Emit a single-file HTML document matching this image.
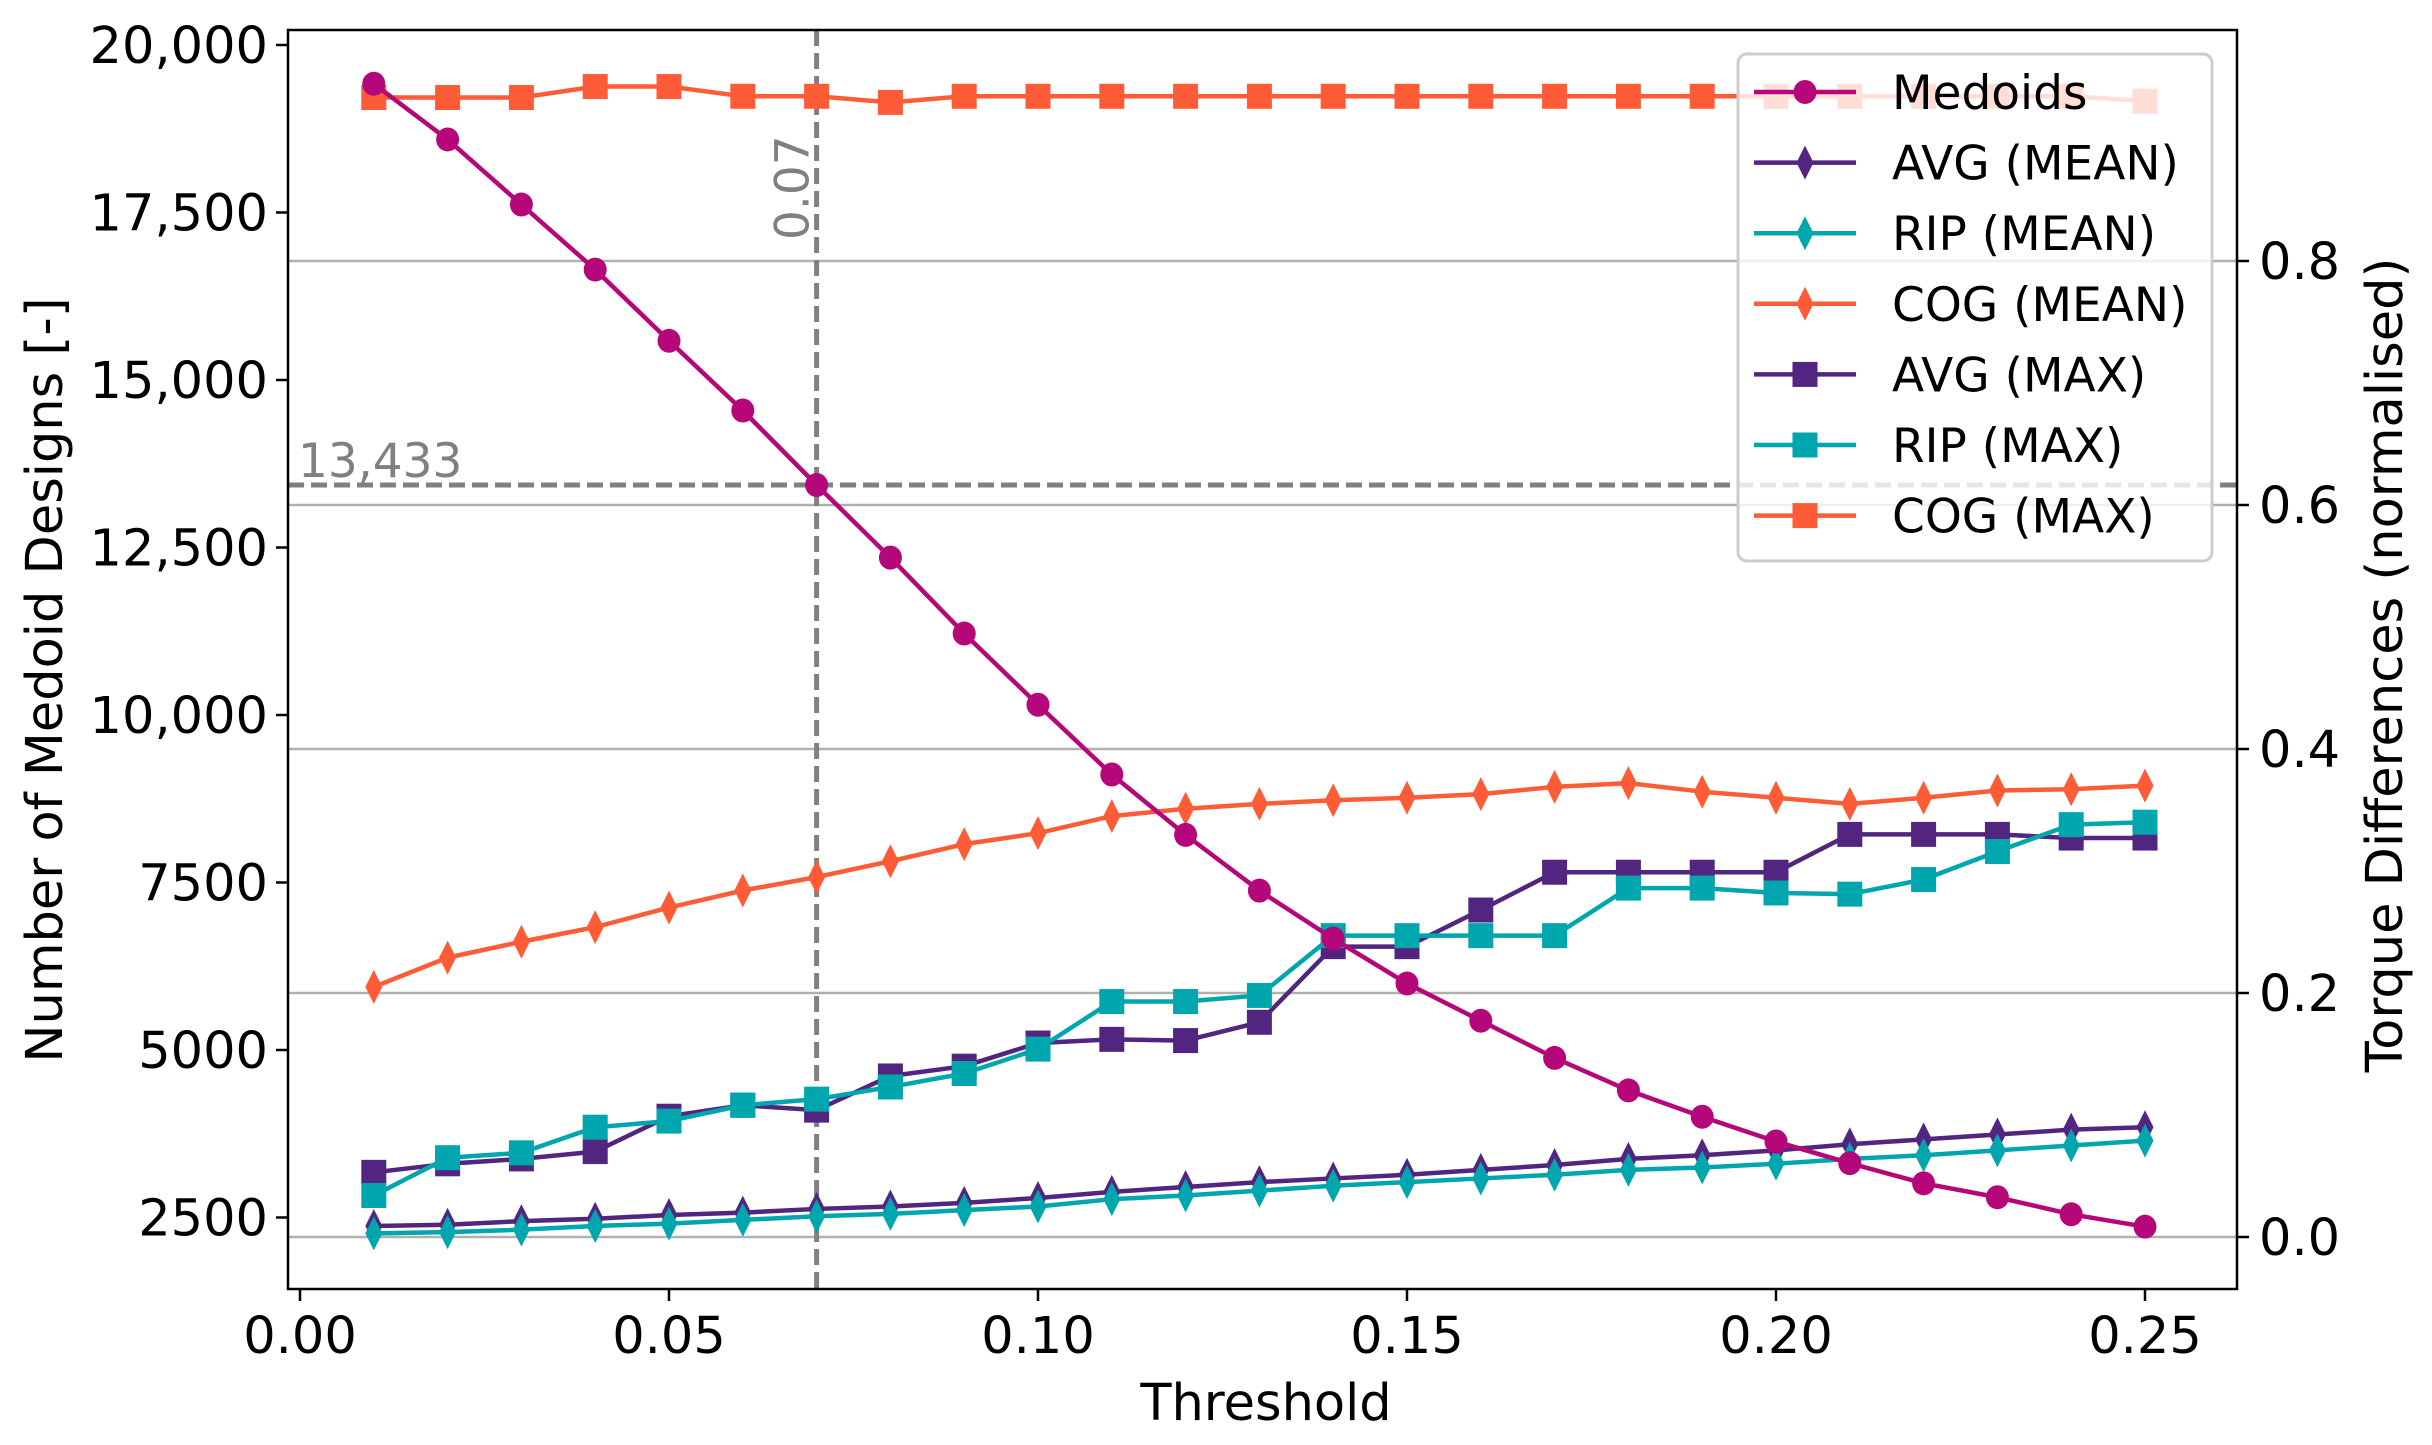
<!DOCTYPE html>
<html><head><meta charset="utf-8"><style>
html,body{margin:0;padding:0;background:#fff;}
svg{display:block;font-family:"DejaVu Sans","Liberation Sans",sans-serif;}
</style></head><body>
<svg id="chart" width="2432" height="1445" viewBox="0 0 2432 1445" xmlns="http://www.w3.org/2000/svg">
<g id="grid"></g>
<g id="refs"></g>
<g id="series"></g>
<g id="axes"></g>
<g id="legend"></g>
</svg>
<script>
const thresholds = [0.01,0.02,0.03,0.04,0.05,0.06,0.07,0.08,0.09,0.10,0.11,0.12,0.13,0.14,0.15,0.16,0.17,0.18,0.19,0.20,0.21,0.22,0.23,0.24,0.25];
const medoids = [19422,18590,17619,16648,15585,14545,13433,12349,11216,10153,9112,8211,7379,6662,5992,5437,4882,4397,4004,3634,3311,3010,2802,2548,2363];
const avgMean = [.009,.010,.013,.015,.018,.020,.023,.025,.028,.032,.037,.041,.045,.048,.051,.055,.059,.064,.067,.071,.076,.080,.084,.088,.090];
const ripMean = [.003,.004,.006,.009,.011,.014,.017,.019,.022,.025,.031,.034,.038,.042,.045,.048,.051,.055,.057,.060,.064,.067,.071,.075,.079];
const cogMean = [.205,.229,.242,.254,.270,.284,.295,.308,.322,.331,.345,.351,.355,.358,.360,.363,.369,.372,.365,.360,.355,.360,.366,.367,.370];
const avgMax = [.053,.060,.064,.070,.099,.108,.104,.132,.140,.159,.162,.161,.176,.238,.238,.268,.299,.299,.299,.299,.330,.330,.330,.327,.327];
const ripMax = [.034,.065,.069,.090,.095,.108,.113,.123,.134,.154,.193,.193,.198,.247,.247,.247,.247,.286,.286,.282,.281,.293,.316,.338,.340];
const cogMax = [.934,.934,.934,.943,.943,.935,.935,.930,.935,.935,.935,.935,.935,.935,.935,.935,.935,.935,.935,.935,.935,.935,.935,.935,.931];
const xTicks = [0.00,0.05,0.10,0.15,0.20,0.25];
const xTickLabels = ["0.00","0.05","0.10","0.15","0.20","0.25"];
const yLeftTicks = [20000,17500,15000,12500,10000,7500,5000,2500];
const yLeftTickLabels = ["20,000","17,500","15,000","12,500","10,000","7500","5000","2500"];
const yRightTicks = [0.0,0.2,0.4,0.6,0.8];
const yRightTickLabels = ["0.0","0.2","0.4","0.6","0.8"];
const refThreshold = 0.07;
const refMedoids = 13433;

const NS="http://www.w3.org/2000/svg";
const L=288,R=2237,T=30,B=1289;
const xs=t=>300+t*7380;
const yl=v=>45+(20000-v)*0.067;
const yr=r=>1237-r*1220;
function mk(tag,attrs,parent){const e=document.createElementNS(NS,tag);for(const k in attrs)e.setAttribute(k,attrs[k]);parent.appendChild(e);return e;}
const grid=document.getElementById('grid'),refs=document.getElementById('refs'),ser=document.getElementById('series'),axes=document.getElementById('axes'),leg=document.getElementById('legend');

yRightTicks.forEach((v,i)=>{const g=mk('line',{x1:L,x2:R,y1:yr(v),y2:yr(v),stroke:'#b0b0b0','stroke-width':2.5},grid);

});

let rv=mk('line',{x1:xs(refThreshold),x2:xs(refThreshold),y1:T,y2:B,stroke:'#808080','stroke-width':5,'stroke-dasharray':'16,7'},refs);


let rh=mk('line',{x1:L,x2:R,y1:yl(refMedoids),y2:yl(refMedoids),stroke:'#808080','stroke-width':5,'stroke-dasharray':'16,7'},refs);


let t1=mk('text',{x:0,y:0,fill:'#808080','font-size':47,transform:`translate(${xs(refThreshold)-8},240) rotate(-90)`},refs);t1.textContent=refThreshold.toFixed(2);


let t2=mk('text',{x:298,y:yl(refMedoids)-8,fill:'#808080','font-size':47},refs);t2.textContent=refMedoids.toLocaleString('en-US');



function marker(type,cx,cy,color,parent){let e;
if(type==='o')e=mk('ellipse',{cx,cy,rx:11.5,ry:12,fill:color},parent);
else if(type==='s')e=mk('rect',{x:cx-12.5,y:cy-12.5,width:25,height:25,fill:color},parent);
else e=mk('polygon',{points:`${cx},${cy-17} ${cx+8.5},${cy} ${cx},${cy+17} ${cx-8.5},${cy}`,fill:color},parent);
return e;}
const seriesDefs=[
 {name:'Medoids',vals:medoids,axis:'l',color:'#b5077a',m:'o',key:'medoids'},
 {name:'AVG (MEAN)',vals:avgMean,axis:'r',color:'#512580',m:'d',key:'avg-mean'},
 {name:'RIP (MEAN)',vals:ripMean,axis:'r',color:'#00a6ad',m:'d',key:'rip-mean'},
 {name:'COG (MEAN)',vals:cogMean,axis:'r',color:'#fd5c36',m:'d',key:'cog-mean'},
 {name:'AVG (MAX)',vals:avgMax,axis:'r',color:'#512580',m:'s',key:'avg-max'},
 {name:'RIP (MAX)',vals:ripMax,axis:'r',color:'#00a6ad',m:'s',key:'rip-max'},
 {name:'COG (MAX)',vals:cogMax,axis:'r',color:'#fd5c36',m:'s',key:'cog-max'}];
[1,2,3,4,5,6,0].forEach(i=>{const s=seriesDefs[i];const g=mk('g',{},ser);


const fy=s.axis==='l'?yl:yr;
const pts=s.vals.map((v,j)=>xs(thresholds[j])+','+fy(v)).join(' ');
const pl=mk('polyline',{points:pts,fill:'none',stroke:s.color,'stroke-width':4.5,'stroke-linejoin':'round'},g);


s.vals.forEach((v,j)=>{const m=marker(s.m,xs(thresholds[j]),fy(v),s.color,g);

});});

const frame=mk('rect',{x:L,y:T,width:R-L,height:B-T,fill:'none',stroke:'#000','stroke-width':2.5},axes);


xTicks.forEach((v,i)=>{mk('line',{x1:xs(v),x2:xs(v),y1:B,y2:B+12,stroke:'#000','stroke-width':2.5},axes);
const t=mk('text',{x:xs(v),y:B+64,'text-anchor':'middle','font-size':51},axes);t.textContent=xTickLabels[i];

});
yLeftTicks.forEach((v,i)=>{mk('line',{x1:L-12,x2:L,y1:yl(v),y2:yl(v),stroke:'#000','stroke-width':2.5},axes);
const t=mk('text',{x:L-20,y:yl(v)+18,'text-anchor':'end','font-size':51},axes);t.textContent=yLeftTickLabels[i];

});
yRightTicks.forEach((v,i)=>{mk('line',{x1:R,x2:R+12,y1:yr(v),y2:yr(v),stroke:'#000','stroke-width':2.5},axes);
const t=mk('text',{x:R+22,y:yr(v)+18,'font-size':51},axes);t.textContent=yRightTickLabels[i];

});
let xt=mk('text',{x:1266,y:1420,'text-anchor':'middle','font-size':51},axes);xt.textContent='Threshold';


let ylt=mk('text',{x:0,y:0,'text-anchor':'middle','font-size':51,transform:'translate(62,680) rotate(-90)'},axes);ylt.textContent='Number of Medoid Designs [-]';


let yrt=mk('text',{x:0,y:0,'text-anchor':'middle','font-size':51,transform:'translate(2402,665) rotate(-90)'},axes);yrt.textContent='Torque Differences (normalised)';



const box=mk('rect',{x:1738,y:54,width:474,height:507,rx:9,fill:'#fff','fill-opacity':0.8,stroke:'#cccccc','stroke-width':3},leg);


seriesDefs.forEach((s,i)=>{const cy=92+i*70.6;const g=mk('g',{},leg);


mk('line',{x1:1754,x2:1856,y1:cy,y2:cy,stroke:s.color,'stroke-width':4.5},g);
marker(s.m,1805,cy,s.color,g);
const t=mk('text',{x:1892,y:cy+17,'font-size':47},g);t.textContent=s.name;});
</script>
</body></html>
